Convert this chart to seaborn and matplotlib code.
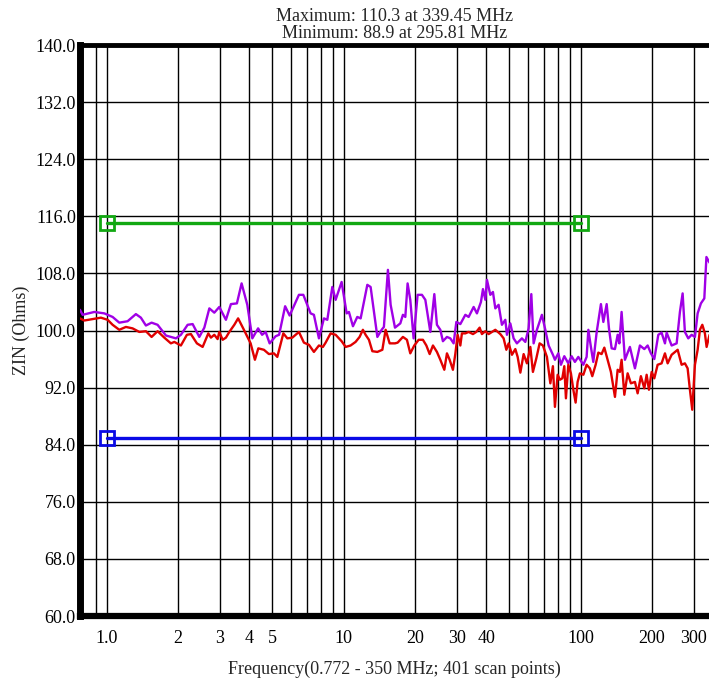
import numpy as np
import pandas as pd
import matplotlib
matplotlib.use("Agg")
import matplotlib.pyplot as plt
from matplotlib.ticker import FixedLocator, NullLocator, NullFormatter
import seaborn as sns

# ---------------- data ----------------
purple_freq = [0.772, 0.792, 0.887, 0.978, 1.060, 1.131, 1.226, 1.329, 1.395, 1.465,
               1.548, 1.641, 1.779, 1.961, 2.058, 2.197, 2.307, 2.461, 2.584, 2.713,
               2.847, 2.989, 3.187, 3.346, 3.546, 3.712, 3.923, 4.119, 4.357, 4.530,
               4.688, 4.873, 5.166, 5.344, 5.665, 5.918, 6.478, 6.761, 7.257, 7.493,
               7.867, 8.259, 8.535, 8.961, 9.253, 9.808, 10.30, 10.53, 10.95, 11.42,
               11.80, 12.59, 13.00, 13.88, 14.47, 14.79, 15.38, 15.79, 16.47, 17.35,
               17.79, 18.21, 18.62, 19.11, 19.74, 20.52, 21.40, 22.12, 23.22, 24.14,
               24.76, 25.59, 26.24, 27.29, 28.20, 29.12, 29.90, 31.08, 32.63, 33.69,
               35.37, 36.52, 37.97, 38.72, 39.63, 40.25, 41.59, 42.66, 43.66, 45.08,
               46.55, 48.12, 48.87, 50.50, 52.15, 53.85, 56.53, 58.44, 60.34, 61.94,
               63.34, 65.40, 68.65, 70.97, 73.28, 76.40, 77.91, 80.52, 82.58, 85.34,
               88.73, 91.62, 94.60, 97.79, 102.7, 106.0, 107.8, 110.5, 113.1, 116.8,
               121.8, 124.7, 128.8, 131.7, 135.2, 139.6, 143.3, 145.7, 148.9, 153.8,
               161.4, 169.5, 177.9, 185.7, 191.8, 198.0, 204.6, 212.7, 219.6, 226.9,
               230.7, 242.1, 254.2, 262.4, 269.4, 275.4, 284.6, 294.0, 303.6, 311.7,
               321.8, 332.6, 339.45, 350.0]
purple_zin = [102.9, 102.2, 102.6, 102.4, 101.9, 101.1, 101.3, 102.3, 101.8, 100.7,
              101.1, 100.8, 99.3, 98.9, 99.4, 100.8, 100.9, 99.1, 100.4, 103.1,
              102.5, 103.3, 101.5, 103.7, 103.8, 106.6, 103.6, 98.9, 100.3, 99.4,
              99.8, 98.2, 99.2, 99.4, 103.4, 102.1, 105.0, 105.0, 102.4, 102.2,
              98.9, 101.7, 101.5, 106.1, 104.3, 106.8, 102.4, 102.6, 100.6, 101.9,
              101.7, 106.4, 106.1, 99.1, 100.1, 100.5, 108.5, 103.6, 100.4, 101.0,
              102.2, 101.9, 106.6, 104.3, 98.9, 105.0, 105.0, 104.3, 99.8, 105.1,
              100.8, 100.1, 98.5, 99.1, 98.9, 98.2, 101.2, 100.9, 102.2, 101.9,
              103.3, 102.4, 104.0, 105.8, 104.3, 107.1, 105.0, 105.4, 103.1, 103.6,
              100.8, 101.5, 99.4, 101.0, 98.9, 98.2, 98.9, 98.4, 100.3, 105.1,
              98.2, 100.1, 102.2, 100.1, 97.9, 96.6, 95.9, 96.8, 95.2, 96.4,
              95.4, 96.4, 95.6, 96.3, 95.2, 96.3, 100.1, 97.7, 95.6, 99.7,
              103.7, 101.2, 103.7, 100.3, 97.5, 97.4, 99.4, 98.2, 102.6, 95.9,
              97.7, 94.7, 97.9, 97.4, 97.9, 96.8, 96.0, 99.4, 99.7, 98.2,
              99.7, 97.9, 98.2, 102.6, 105.2, 99.8, 98.9, 99.4, 99.1, 102.4,
              103.8, 104.5, 110.3, 109.5]

red_freq = [0.772, 0.805, 0.873, 0.946, 1.010, 1.060, 1.131, 1.206, 1.287, 1.374,
            1.465, 1.548, 1.641, 1.752, 1.867, 1.931, 2.058, 2.182, 2.268, 2.404,
            2.542, 2.686, 2.755, 2.847, 2.940, 2.989, 3.087, 3.187, 3.294, 3.458,
            3.588, 3.796, 4.052, 4.224, 4.366, 4.610, 4.839, 5.080, 5.251, 5.568,
            5.788, 6.075, 6.478, 6.800, 7.139, 7.493, 7.867, 8.178, 8.396, 8.813,
            9.253, 9.808, 10.20, 10.70, 11.23, 11.68, 12.06, 12.38, 12.79, 13.22,
            13.88, 14.57, 15.04, 15.64, 16.47, 16.90, 17.79, 18.50, 19.11, 19.87,
            20.73, 21.61, 22.34, 23.07, 23.82, 24.76, 25.59, 26.60, 27.29, 28.01,
            28.92, 29.60, 30.27, 31.08, 31.56, 32.63, 33.69, 35.13, 36.29, 37.49,
            38.33, 39.63, 40.91, 42.24, 43.66, 45.84, 47.33, 48.60, 49.70, 51.31,
            53.03, 54.24, 55.68, 57.48, 59.35, 61.35, 62.91, 65.03, 67.14, 69.33,
            72.08, 74.51, 76.40, 77.91, 79.98, 81.79, 83.71, 85.34, 86.70, 88.73,
            91.01, 93.16, 95.26, 97.12, 99.31, 102.7, 106.0, 109.4, 112.0, 115.7,
            118.8, 122.6, 125.9, 130.0, 134.2, 139.6, 143.3, 146.5, 148.9, 152.9,
            157.9, 163.0, 169.5, 174.0, 179.6, 185.7, 189.9, 194.2, 199.4, 204.6,
            211.3, 219.6, 226.9, 232.9, 242.1, 256.7, 266.8, 275.4, 282.8, 289.2,
            295.81, 303.6, 311.7, 318.7, 326.2, 334.5, 340.1, 350.0]
red_zin = [101.7, 101.4, 101.6, 101.8, 101.5, 100.8, 100.1, 100.5, 100.3, 99.8,
           99.9, 99.1, 99.9, 99.0, 98.2, 98.4, 97.9, 99.4, 99.5, 98.2,
           97.7, 99.6, 99.0, 99.4, 98.8, 99.8, 98.7, 99.0, 99.8, 100.8,
           101.7, 100.1, 98.2, 95.9, 97.5, 97.3, 96.7, 96.8, 96.3, 99.6,
           98.9, 99.0, 99.8, 98.3, 98.0, 97.0, 97.9, 97.7, 98.3, 99.6,
           99.4, 98.5, 97.7, 97.9, 98.4, 99.1, 100.1, 99.4, 98.7, 97.1,
           97.0, 97.3, 100.1, 98.2, 98.2, 98.3, 99.1, 98.7, 96.8, 97.9,
           98.7, 98.7, 97.9, 96.7, 97.9, 97.0, 95.9, 94.5, 96.8, 95.9,
           94.5, 96.7, 99.4, 97.9, 99.6, 99.6, 99.8, 99.5, 99.8, 100.4,
           99.5, 99.9, 99.5, 99.8, 100.1, 99.5, 98.9, 97.3, 98.2, 96.6,
           97.4, 96.3, 94.1, 96.7, 95.4, 97.7, 94.2, 96.1, 98.2, 97.9,
           96.3, 92.6, 95.0, 89.3, 93.8, 93.1, 93.3, 95.0, 90.5, 95.2,
           94.0, 91.7, 89.9, 92.8, 94.0, 93.8, 95.2, 94.7, 93.6, 95.2,
           96.9, 96.7, 97.6, 95.9, 94.2, 90.7, 94.5, 94.2, 95.9, 91.0,
           94.0, 92.6, 92.8, 91.2, 93.6, 91.9, 93.8, 91.7, 94.2, 93.3,
           95.2, 95.4, 96.8, 95.4, 96.6, 97.3, 95.2, 95.4, 94.7, 91.7,
           88.9, 95.2, 97.3, 100.1, 100.8, 99.6, 97.7, 99.4]

limit_freq = [1.0, 100.0]
upper_limit = [115.0, 115.0]
lower_limit = [85.0, 85.0]

y_ticks = [60, 68, 76, 84, 92, 100, 108, 116, 124, 132, 140]
x_label_ticks = [1, 2, 3, 4, 5, 10, 20, 30, 40, 100, 200, 300]
x_label_text = ["1.0", "2", "3", "4", "5", "10", "20", "30", "40", "100", "200", "300"]
x_grid = [0.9, 1, 2, 3, 4, 5, 6, 7, 8, 9, 10, 20, 30, 40, 50, 60, 70, 80, 90,
          100, 200, 300]

title_text = "Maximum: 110.3 at 339.45 MHz\nMinimum: 88.9 at 295.81 MHz"
x_title = "Frequency(0.772 - 350 MHz; 401 scan points)"
y_title = "ZIN (Ohms)"

# ---------------- plotting ----------------
sns.set_style("white")
plt.rcParams["font.family"] = ["Liberation Serif", "DejaVu Serif"]

PURPLE = "#a000e6"
RED = "#e00000"
GREEN = "#12a812"
BLUE = "#0a0ae6"
FS = 13

fig = plt.figure(figsize=(7.09, 6.84), dpi=100)
ax = fig.add_axes([0.1128, 0.0994, 0.8880, 0.8348])

df_p = pd.DataFrame({"freq": purple_freq, "zin": purple_zin})
df_r = pd.DataFrame({"freq": red_freq, "zin": red_zin})
df_u = pd.DataFrame({"freq": limit_freq, "zin": upper_limit})
df_l = pd.DataFrame({"freq": limit_freq, "zin": lower_limit})

ax.set_xscale("log")

sns.lineplot(data=df_p, x="freq", y="zin", ax=ax, color=PURPLE, lw=1.7,
             sort=False, estimator=None, zorder=4)
sns.lineplot(data=df_r, x="freq", y="zin", ax=ax, color=RED, lw=1.7,
             sort=False, estimator=None, zorder=5)
sns.lineplot(data=df_u, x="freq", y="zin", ax=ax, color=GREEN, lw=2.4,
             sort=False, estimator=None, marker="s", markersize=9.5,
             markerfacecolor="none", markeredgecolor=GREEN, markeredgewidth=2.0, zorder=6)
sns.lineplot(data=df_l, x="freq", y="zin", ax=ax, color=BLUE, lw=2.4,
             sort=False, estimator=None, marker="s", markersize=9.5,
             markerfacecolor="none", markeredgecolor=BLUE, markeredgewidth=2.0, zorder=6)

ax.set_xlim(0.772, 350)
ax.set_ylim(60, 140)

for gx in x_grid:
    ax.axvline(gx, color="black", lw=1.0, zorder=1)
for gy in y_ticks[1:-1]:
    ax.axhline(gy, color="black", lw=1.0, zorder=1)

ax.xaxis.set_major_locator(FixedLocator(x_label_ticks))
ax.set_xticklabels(x_label_text)
ax.xaxis.set_minor_locator(NullLocator())
ax.xaxis.set_minor_formatter(NullFormatter())
ax.set_yticks(y_ticks)
ax.set_yticklabels([f"{v:.1f}" for v in y_ticks])
ax.tick_params(axis="both", length=0, labelsize=FS, colors="black")
ax.tick_params(axis="x", pad=10)
ax.tick_params(axis="y", pad=3)

for name, s in ax.spines.items():
    s.set_color("black")
ax.spines["left"].set_linewidth(5)
ax.spines["bottom"].set_linewidth(4.5)
ax.spines["top"].set_linewidth(3.5)
ax.spines["right"].set_visible(False)

ax.set_xlabel(x_title, fontsize=FS, labelpad=10)
ax.set_ylabel(y_title, fontsize=FS, labelpad=4)
ax.set_title(title_text, fontsize=FS, pad=5, linespacing=1.0)

fig.savefig("out.png", dpi=100)
